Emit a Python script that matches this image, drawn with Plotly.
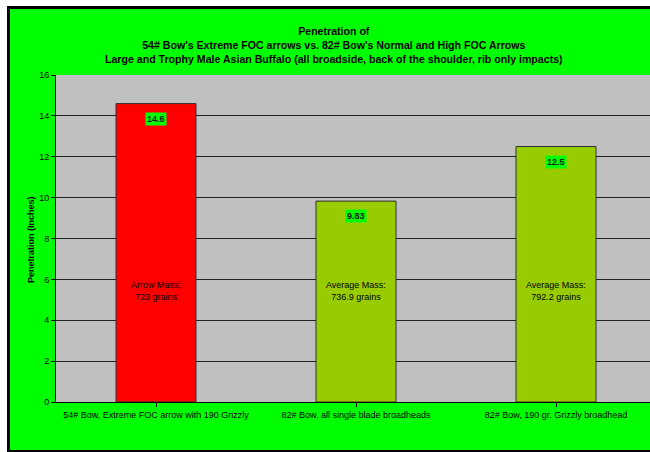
import plotly.graph_objects as go

categories = ["54# Bow, Extreme FOC arrow with 190 Grizzly",
              "82# Bow, all single blade broadheads",
              "82# Bow, 190 gr. Grizzly broadhead"]
penetration = [14.6, 9.83, 12.5]
value_labels = ["14.6", "9.83", "12.5"]
mass_labels = ["Arrow Mass:<br>723 grains", "Average Mass:<br>736.9 grains", "Average Mass:<br>792.2 grains"]
bar_colors = ["#FF0000", "#99CC00", "#99CC00"]
y_ticks = [0, 2, 4, 6, 8, 10, 12, 14, 16]

W, H = 650, 452
L, R, T, B = 56, 0, 75, 50
pw, ph = W - L - R, H - T - B

def px(x):
    return (x - L) / pw

def py(y):
    return (H - B - y) / ph

FONT = "Liberation Sans, Arial, sans-serif"

fig = go.Figure()
fig.add_trace(go.Bar(
    x=list(range(len(categories))), y=penetration,
    marker=dict(color=bar_colors, line=dict(color="#303030", width=1)),
    width=0.4, hoverinfo="skip"))

annotations = []
for i, (v, lab, m) in enumerate(zip(penetration, value_labels, mass_labels)):
    annotations.append(dict(x=i, y=v, xref="x", yref="y", text="<b>" + lab + "</b>", showarrow=False,
                            yanchor="top", yshift=-8, bgcolor="#00FF00", borderpad=1,
                            font=dict(family=FONT, size=9, color="#1a1a1a")))
    annotations.append(dict(x=i, y=5.43, xref="x", yref="y", text=m, showarrow=False,
                            yanchor="middle", font=dict(family=FONT, size=9, color="#000000")))

annotations.append(dict(
    x=px(334), y=py(45), xref="paper", yref="paper", showarrow=False,
    xanchor="center", yanchor="middle",
    text="<b>Penetration of</b><br><b>54# Bow's Extreme FOC arrows vs. 82# Bow's Normal and High FOC Arrows</b><br><b>Large and Trophy Male Asian Buffalo (all broadside, back of the shoulder, rib only impacts)</b>",
    font=dict(family=FONT, size=10.6, color="#000000")))
annotations.append(dict(
    x=px(31), y=py(240), xref="paper", yref="paper", showarrow=False,
    textangle=-90, xanchor="center", yanchor="middle",
    text="<b>Penetration (Inches)</b>", font=dict(family=FONT, size=9, color="#000000")))

shapes = [
    dict(type="rect", xref="paper", yref="paper", x0=px(0), x1=px(W), y0=py(0), y1=py(6),
         fillcolor="#FFFFFF", line=dict(width=0), layer="above"),
    dict(type="rect", xref="paper", yref="paper", x0=px(0), x1=px(7), y0=py(0), y1=py(H),
         fillcolor="#FFFFFF", line=dict(width=0), layer="above"),
    dict(type="rect", xref="paper", yref="paper", x0=px(7), x1=px(W), y0=py(6), y1=py(9),
         fillcolor="#000000", line=dict(width=0), layer="above"),
    dict(type="rect", xref="paper", yref="paper", x0=px(7), x1=px(10), y0=py(6), y1=py(H),
         fillcolor="#000000", line=dict(width=0), layer="above"),
    dict(type="rect", xref="paper", yref="paper", x0=px(7), x1=px(W), y0=py(450), y1=py(H),
         fillcolor="#000000", line=dict(width=0), layer="above"),
]

fig.update_layout(
    width=W, height=H, margin=dict(l=L, r=R, t=T, b=B),
    paper_bgcolor="#00FF00", plot_bgcolor="#C0C0C0",
    showlegend=False, bargap=0.6,
    annotations=annotations, shapes=shapes,
    font=dict(family=FONT, size=9, color="#000000"),
    xaxis=dict(range=[-0.5, 2.47], tickmode="array", tickvals=[0, 1, 2], ticktext=categories,
               tickson="boundaries", ticks="outside", ticklen=4, tickcolor="#000000",
               showline=True, linecolor="#000000", linewidth=1, showgrid=False,
               tickfont=dict(family=FONT, size=9, color="#000000"), fixedrange=True),
    yaxis=dict(range=[0, 16], tickvals=y_ticks, ticks="outside", ticklen=4, tickcolor="#000000",
               showline=True, linecolor="#000000", linewidth=1, showgrid=True,
               gridcolor="#222222", gridwidth=1, zeroline=False,
               tickfont=dict(family=FONT, size=9, color="#000000"), fixedrange=True),
)

fig.write_html("out.html", config={"displayModeBar": False})
